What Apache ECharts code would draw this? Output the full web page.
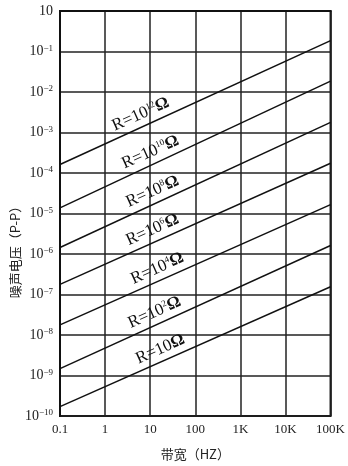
<!DOCTYPE html>
<html>
<head>
<meta charset="utf-8">
<script src="https://cdn.jsdelivr.net/npm/echarts@6/dist/echarts.min.js"></script>
<style>
html,body{margin:0;padding:0;background:#fff;}
#c{width:348px;height:466px;}
</style>
</head>
<body>
<div id="c"></div>
<script>
// ---- data ----
const resistanceExp = [12, 10, 8, 6, 4, 2, 1];           // R = 10^n ohm
const bandwidthEnds = [0.1, 100000];                      // Hz
const noiseAtLow  = [1.62e-4, 1.38e-5, 1.45e-6, 1.78e-7, 1.78e-8, 1.48e-9, 1.70e-10]; // V p-p at 0.1 Hz
const noiseAtHigh = [0.186, 1.86e-2, 1.78e-3, 1.74e-4, 1.66e-5, 1.62e-6, 1.55e-7];   // V p-p at 100 kHz
const xTickLabels = ['0.1', '1', '10', '100', '1K', '10K', '100K'];
const yTickSup = ['−10', '−9', '−8', '−7', '−6', '−5', '−4', '−3', '−2', '−1', ''];
const yTickBase = '10';
const xName = '带宽（HZ）';
const yName = '噪声电压（P-P）';

// ---- layout / style ----
const labelAt = [7.9, 13, 14.4, 14.4, 18.5, 16, 21.5];   // bandwidth where each label sits
const serif = '"Liberation Serif","DejaVu Serif",serif';

// the vertical axis is a decade (log10) scale
const lg = Math.log10;
function lineDecadeAt(i, x) {
  const l0 = lg(bandwidthEnds[0]), l1 = lg(bandwidthEnds[1]);
  const t = (lg(x) - l0) / (l1 - l0);
  return lg(noiseAtLow[i]) + t * (lg(noiseAtHigh[i]) - lg(noiseAtLow[i]));
}

const series = resistanceExp.map((n, i) => ({
  type: 'line',
  data: [[bandwidthEnds[0], lg(noiseAtLow[i])], [bandwidthEnds[1], lg(noiseAtHigh[i])]],
  symbol: 'none',
  silent: true,
  lineStyle: { color: '#111', width: 1.5 },
  markPoint: {
    symbol: 'circle',
    symbolSize: 0.1,
    itemStyle: { color: 'rgba(0,0,0,0)' },
    silent: true,
    data: [{ coord: [labelAt[i], lineDecadeAt(i, labelAt[i])], value: n }],
    label: {
      show: true,
      position: 'inside',
      rotate: 24,
      offset: [0, -12],
      color: '#111',
      formatter: () => n === 1 ? '{a|R=10}{o|Ω}' : '{a|R=10}{s|' + n + '}{o|Ω}',
      rich: {
        a: { fontFamily: serif, fontSize: 17, color: '#111' },
        s: { fontFamily: serif, fontSize: 9, color: '#111', verticalAlign: 'top', padding: [0, 0, 7, 0] },
        o: { fontFamily: serif, fontSize: 17, fontWeight: 'bold', color: '#111' }
      }
    }
  }
}));

const chart = echarts.init(document.getElementById('c'), null, { renderer: 'canvas' });
chart.setOption({
  animation: false,
  backgroundColor: '#fff',
  grid: { left: 60, right: 10, top: 11, bottom: 46, show: true, borderColor: '#111', borderWidth: 2, backgroundColor: 'transparent' },
  xAxis: {
    type: 'log', logBase: 10, min: 0.1, max: 100000,
    name: xName, nameLocation: 'middle', nameGap: 32,
    nameTextStyle: { fontFamily: '"Noto Sans CJK SC"', fontSize: 13, color: '#222' },
    axisLine: { lineStyle: { color: '#111', width: 2 } },
    axisTick: { show: false },
    splitLine: { show: true, lineStyle: { color: '#222', width: 1.5 } },
    axisLabel: {
      margin: 7,
      fontFamily: serif, fontSize: 13, color: '#222',
      formatter: v => xTickLabels[Math.round(lg(v)) + 1]
    }
  },
  yAxis: {
    type: 'value', min: -10, max: 0, interval: 1,
    axisLine: { show: true, lineStyle: { color: '#111', width: 2 } },
    axisTick: { show: false },
    splitLine: { show: true, lineStyle: { color: '#222', width: 1.5 } },
    axisLabel: {
      margin: 7,
      formatter: v => {
        const k = Math.round(v) + 10;
        return yTickSup[k] ? '{b|' + yTickBase + '}{s|' + yTickSup[k] + '}' : '{b|' + yTickBase + '}';
      },
      rich: {
        b: { fontFamily: serif, fontSize: 14, color: '#222' },
        s: { fontFamily: serif, fontSize: 9, color: '#222', verticalAlign: 'top', padding: [0, 0, 6, 0] }
      }
    }
  },
  graphic: [{
    type: 'text',
    x: 15, y: 249,
    rotation: Math.PI / 2,
    style: {
      text: yName,
      font: '13px "Noto Sans CJK SC"',
      fill: '#222',
      textAlign: 'center', textVerticalAlign: 'middle',
      align: 'center', verticalAlign: 'middle'
    }
  }],
  series: series
});
</script>
</body>
</html>
